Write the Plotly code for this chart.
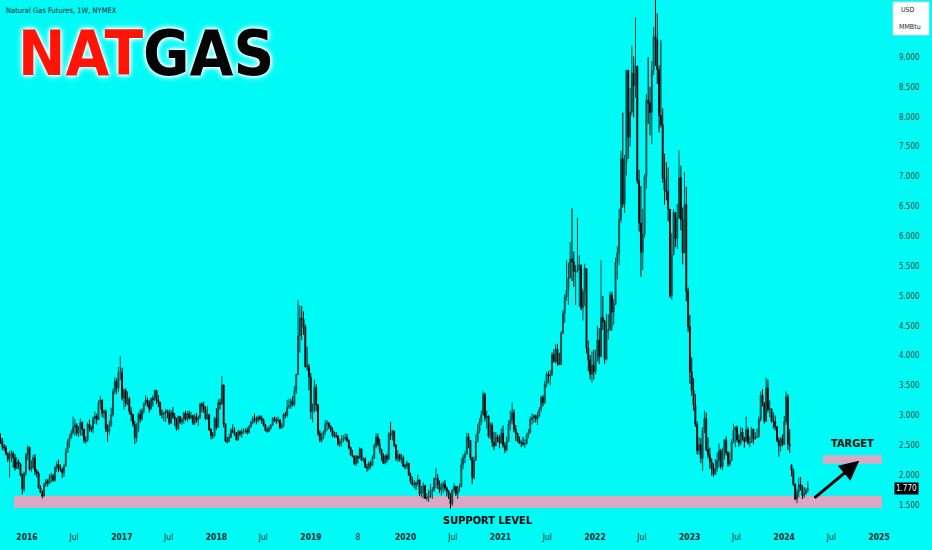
import plotly.graph_objects as go
import pandas as pd

# ---------------- data (weekly candles, NYMEX natural gas, USD/MMBtu) ----------------
start_week = "2015-09-21"
first_open = 2.62
gap_opens = {"2024-01-29": 2.17}   # contract-roll gap

c2015 = [2.57,2.47,2.46,2.36,2.27,2.32,2.37,2.29,2.12,2.22,2.19,2.00,1.77,2.03,2.34]
h2015 = [2.70,2.62,2.52,2.50,2.38,2.40,2.42,2.40,2.35,2.30,2.26,2.20,2.03,2.06,2.37]
l2015 = [2.52,2.42,2.40,2.33,2.22,1.96,2.22,2.12,2.08,2.10,2.10,1.98,1.68,1.72,1.99]

c2016 = [2.47,2.10,2.13,2.29, 2.06,2.03,1.79,1.71,1.65, 1.85,1.90,1.86,1.96, 1.99,1.91,2.13,2.18,
         2.10,2.09,2.04,2.15,2.39, 2.56,2.62,2.70,2.80, 2.84,2.70,2.77,2.88, 2.77,2.58,2.58,2.85,2.79,
         2.77,2.95,2.99,2.93, 3.21,3.26,3.04,3.07,2.77, 2.73,2.84,3.01,3.40, 3.57,3.46,3.72,3.72]
h2016 = [2.50,2.46,2.25,2.34, 2.35,2.10,2.06,1.83,1.75, 1.87,1.94,1.93,2.02, 2.04,2.02,2.15,2.23,
         2.26,2.18,2.13,2.19,2.45, 2.60,2.68,2.76,2.98, 2.94,2.87,2.82,2.95, 2.90,2.77,2.65,2.88,2.93,
         2.83,2.98,3.06,3.03, 3.25,3.33,3.25,3.10,3.10, 2.85,2.91,3.13,3.45, 3.64,3.62,3.81,3.99]
l2016 = [2.25,2.07,2.05,2.10, 2.00,1.96,1.77,1.70,1.61, 1.64,1.80,1.81,1.85, 1.88,1.89,1.89,2.05,
         2.05,2.06,1.95,1.97,2.16, 2.38,2.46,2.61,2.68, 2.66,2.66,2.64,2.66, 2.66,2.54,2.53,2.56,2.73,
         2.72,2.70,2.86,2.85, 2.92,3.10,2.97,2.95,2.72, 2.56,2.68,2.81,2.98, 3.35,3.36,3.40,3.59]

c2017 = [3.29,3.42,3.20,3.28,3.07, 3.01,2.85,2.63,2.78, 3.02,2.94,3.08,3.19, 3.26,3.21,3.11,3.28,
         3.27,3.42,3.26,3.22,3.03, 3.02,3.04,3.07,3.04, 2.87,3.05,2.98,2.94,2.77, 2.98,2.89,2.93,3.04,
         2.94,3.03,2.96,3.00, 2.87,2.98,2.92,2.96,3.19, 3.16,3.10,2.94,3.01, 2.76,2.66,2.66,2.95]
h2017 = [3.80,3.45,3.45,3.40,3.31, 3.14,3.03,2.91,2.87, 3.05,3.10,3.12,3.22, 3.34,3.30,3.25,3.30,
         3.33,3.43,3.41,3.34,3.18, 3.10,3.07,3.11,3.10, 3.10,3.09,3.14,3.04,2.96, 3.00,2.99,2.97,3.06,
         3.08,3.07,3.08,3.06, 3.01,3.02,3.04,3.00,3.21, 3.22,3.23,3.15,3.16, 3.03,2.79,2.72,2.98]
l2017 = [3.25,3.10,3.15,3.17,3.02, 2.90,2.81,2.52,2.55, 2.72,2.88,2.91,3.03, 3.16,3.14,3.05,3.09,
         3.15,3.24,3.19,3.14,2.99, 2.95,2.90,2.89,2.95, 2.84,2.86,2.94,2.82,2.74, 2.77,2.86,2.84,2.86,
         2.91,2.89,2.93,2.93, 2.84,2.84,2.88,2.82,2.94, 3.05,3.04,2.92,2.93, 2.74,2.60,2.61,2.64]

c2018 = [2.80,3.21,3.19,3.51,2.85, 2.57,2.56,2.63,2.75, 2.73,2.68,2.59,2.73, 2.69,2.73,2.73,2.75,2.71,
         2.81,2.88,2.95,2.93, 2.92,2.97,2.95,2.92, 2.84,2.75,2.74,2.79,2.84, 2.95,2.92,2.91,2.92,
         2.79,2.82,3.02,3.00, 3.14,3.16,3.24,3.18,3.41, 3.68,4.33,4.63,4.61, 4.48,3.82,3.82,3.64,3.06]
h2018 = [3.12,3.27,3.28,3.66,3.50, 2.87,2.64,2.69,2.79, 2.85,2.80,2.72,2.76, 2.75,2.78,2.78,2.79,2.80,
         2.84,2.91,2.99,3.03, 2.98,3.00,3.00,3.00, 2.95,2.86,2.80,2.83,2.85, 2.97,2.98,2.97,2.98,
         2.94,2.87,3.04,3.06, 3.26,3.28,3.28,3.32,3.49, 3.70,4.93,4.84,4.83, 4.74,4.52,4.15,3.86,3.71]
l2018 = [2.76,2.80,3.10,3.18,2.80, 2.55,2.53,2.56,2.62, 2.70,2.66,2.58,2.58, 2.65,2.62,2.69,2.70,2.68,
         2.70,2.79,2.85,2.88, 2.85,2.88,2.91,2.86, 2.81,2.73,2.71,2.72,2.76, 2.82,2.89,2.86,2.87,
         2.77,2.78,2.80,2.95, 2.97,3.11,3.11,3.15,3.15, 3.36,3.73,4.05,4.26, 4.35,3.80,3.75,3.42,2.94]

c2019 = [3.09,3.47,3.18,2.70, 2.58,2.63,2.72,2.86, 2.87,2.81,2.76,2.66, 2.66,2.66,2.52,2.56,2.58,
         2.62,2.63,2.58,2.46, 2.34,2.31,2.19,2.31, 2.29,2.44,2.25,2.27,2.13, 2.12,2.20,2.16,2.29,
         2.49,2.64,2.52,2.43,2.33, 2.20,2.32,2.27,2.69, 2.67,2.74,2.50,2.28, 2.34,2.26,2.29,2.15,2.15]
h2019 = [3.20,3.60,3.52,3.15, 2.75,2.71,2.75,2.92, 2.92,2.89,2.84,2.80, 2.73,2.72,2.67,2.61,2.67,
         2.67,2.70,2.69,2.60, 2.48,2.42,2.33,2.34, 2.33,2.47,2.42,2.30,2.30, 2.19,2.23,2.24,2.33,
         2.53,2.70,2.70,2.61,2.44, 2.37,2.34,2.36,2.72, 2.89,2.76,2.72,2.52, 2.42,2.36,2.36,2.33,2.19]
l2019 = [2.88,3.05,3.07,2.66, 2.55,2.55,2.60,2.67, 2.74,2.77,2.72,2.63, 2.63,2.62,2.49,2.47,2.48,
         2.55,2.58,2.55,2.43, 2.33,2.30,2.17,2.15, 2.20,2.27,2.24,2.21,2.12, 2.06,2.08,2.11,2.17,
         2.27,2.45,2.48,2.37,2.24, 2.19,2.18,2.21,2.25, 2.59,2.58,2.47,2.24, 2.22,2.23,2.20,2.13,2.10]

c2020 = [2.20,2.00,1.89,1.84, 1.86,1.85,1.92,1.69, 1.71,1.82,1.61,1.63,1.64, 1.73,1.75,1.94,1.94,
         1.84,1.75,1.79,1.85, 1.78,1.73,1.67,1.52,1.75, 1.81,1.69,1.80,1.80, 2.17,2.30,2.35,2.64,2.58,
         2.30,1.96,2.25,2.56, 2.74,2.89,3.01,3.35, 2.96,2.99,2.65,2.84,2.55, 2.49,2.64,2.63,2.54]
h2020 = [2.24,2.19,2.04,1.97, 1.92,1.89,2.01,1.93, 1.82,1.88,1.84,1.70,1.76, 1.85,1.80,1.96,2.12,
         2.02,1.91,1.87,1.90, 1.92,1.81,1.75,1.70,1.76, 1.87,1.82,1.82,1.86, 2.28,2.35,2.40,2.71,2.70,
         2.55,2.30,2.31,2.68, 2.85,2.95,3.08,3.40, 3.38,3.08,3.00,2.88,2.88, 2.72,2.72,2.68,2.67]
l2020 = [2.10,1.99,1.86,1.82, 1.78,1.75,1.81,1.65, 1.63,1.61,1.60,1.57,1.55, 1.62,1.60,1.72,1.78,
         1.77,1.70,1.66,1.70, 1.74,1.64,1.60,1.43,1.48, 1.70,1.65,1.60,1.72, 1.80,2.10,2.20,2.40,2.45,
         2.25,1.85,1.93,2.43, 2.56,2.70,2.84,3.00, 2.90,2.78,2.62,2.60,2.47, 2.42,2.58,2.55,2.45]

c2021 = [2.70,2.50,2.42,2.56, 2.86,2.91,3.05,2.77, 2.70,2.60,2.54,2.54,2.52, 2.53,2.67,2.72,2.93,
         2.96,3.00,2.94,2.99,3.10, 3.30,3.21,3.52,3.69, 3.66,3.68,4.02,3.91, 4.11,3.88,3.85,4.38,4.71,
         4.98,5.10,5.30,5.62, 5.57,5.41,5.43,5.43, 5.52,4.80,5.07,5.46,4.13, 3.93,3.69,3.84,3.73]
h2021 = [2.78,2.83,2.55,2.64, 2.92,3.08,3.22,3.10, 2.84,2.71,2.65,2.58,2.64, 2.60,2.70,2.77,2.98,
         3.03,3.02,3.01,3.06,3.14, 3.33,3.34,3.58,3.73, 3.74,3.76,4.06,4.11, 4.19,4.20,4.05,4.41,4.76,
         5.03,5.60,5.56,5.90, 6.47,5.74,5.52,6.31, 5.68,5.22,5.12,5.54,4.60, 4.25,4.01,4.07,4.10]
l2021 = [2.52,2.46,2.37,2.40, 2.57,2.75,2.85,2.72, 2.57,2.55,2.52,2.47,2.49, 2.45,2.51,2.62,2.70,
         2.85,2.88,2.88,2.84,2.97, 3.06,3.15,3.19,3.47, 3.54,3.50,3.66,3.88, 3.87,3.83,3.85,3.88,4.36,
         4.55,4.92,4.85,5.44, 5.25,5.15,4.85,5.39, 4.82,4.76,4.59,4.83,4.04, 3.74,3.60,3.55,3.60]

c2022 = [3.92,4.26,3.99,4.64,4.57, 3.94,4.42,4.44,5.02, 4.73,4.86,5.57,5.72, 6.28,7.30,6.54,7.24,
         8.78,7.66,8.08,8.73,8.52, 8.85,6.93,6.22,5.73, 6.03,7.00,8.28,8.23, 8.07,8.77,9.34,9.29,8.79,
         8.02,7.87,6.96,6.77, 6.75,6.45,5.00,5.69,6.40, 5.96,6.30,6.98,6.28, 5.72,6.53,5.08,4.48]
h2022 = [4.10,4.50,4.46,5.60,5.00, 4.60,4.70,4.69,5.07, 5.07,4.95,5.64,5.83, 6.46,7.43,8.07,7.36,
         8.78,8.20,8.48,9.19,9.01, 9.66,8.75,7.11,6.84, 6.46,7.04,8.38,9.00, 8.50,8.93,9.50,10.03,9.73,
         8.86,9.28,8.14,7.38, 7.24,7.15,6.35,6.05,6.45, 6.35,6.54,7.44,7.18, 6.48,7.07,6.83,5.14]
l2022 = [3.69,3.90,3.86,3.97,4.43, 3.86,3.92,4.27,4.41, 4.42,4.52,4.90,5.28, 5.52,6.23,6.48,6.39,
         7.02,7.30,7.50,8.02,7.99, 8.32,6.88,6.08,5.32, 5.44,5.98,6.80,7.88, 7.69,7.54,8.70,8.85,8.55,
         7.74,7.82,6.90,6.53, 6.60,6.25,4.97,4.94,5.75, 5.82,5.79,6.54,6.10, 5.53,5.95,4.91,4.40]

c2023 = [3.73,3.42,3.17,2.85,2.41, 2.51,2.28,2.76,2.95, 2.43,2.34,2.22,2.10, 2.01,2.11,2.24,2.41,
         2.14,2.34,2.59,2.38,2.18, 2.24,2.55,2.75,2.80, 2.59,2.54,2.72,2.63,2.56, 2.76,2.54,2.55,2.77,
         2.61,2.64,2.64,2.93, 3.34,3.21,2.90,3.46,3.10, 3.11,2.90,2.90,2.81, 2.58,2.49,2.61,2.51]
h2023 = [4.68,3.97,3.62,3.36,2.90, 2.64,2.62,2.80,3.08, 3.05,2.63,2.46,2.28, 2.20,2.27,2.38,2.53,
         2.44,2.46,2.60,2.65,2.40, 2.38,2.60,2.86,2.82, 2.83,2.68,2.81,2.79,2.64, 2.98,2.80,2.65,2.81,
         2.73,2.72,2.78,2.98, 3.40,3.44,3.22,3.63,3.60, 3.25,3.10,3.05,3.00, 2.82,2.63,2.64,2.68]
l2023 = [3.53,3.33,3.08,2.81,2.35, 2.34,2.20,2.07,2.70, 2.40,2.28,2.11,1.99, 1.97,2.02,2.05,2.13,
         2.10,2.08,2.26,2.33,2.14, 2.15,2.29,2.53,2.47, 2.55,2.48,2.50,2.58,2.46, 2.56,2.51,2.47,2.56,
         2.52,2.59,2.62,2.63, 2.90,3.15,2.86,3.05,3.05, 2.97,2.88,2.78,2.75, 2.55,2.31,2.40,2.48]

c2024 = [2.89,3.31,2.52,2.49,2.08, 1.85,1.60,1.72,1.84, 1.80,1.66,1.70,1.75, 1.77]
h2024 = [2.99,3.40,3.35,2.77,2.18, 2.11,1.86,1.77,1.96, 1.97,1.84,1.80,1.79, 1.90]
l2024 = [2.53,2.84,2.42,2.37,1.98, 1.82,1.58,1.53,1.63, 1.74,1.60,1.62,1.67, 1.71]

last_price = 1.770

# axis labels
x_tick_dates = ["2016-01-01","2016-07-01","2017-01-01","2017-07-01","2018-01-01","2018-07-01",
                "2019-01-01","2019-07-01","2020-01-01","2020-07-01","2021-01-01","2021-07-01",
                "2022-01-01","2022-07-01","2023-01-01","2023-07-01","2024-01-01","2024-07-01","2025-01-01"]
x_tick_text = ["<b>2016</b>","Jul","<b>2017</b>","Jul","<b>2018</b>","Jul","<b>2019</b>","8",
               "<b>2020</b>","Jul","<b>2021</b>","Jul","<b>2022</b>","Jul","<b>2023</b>","Jul",
               "<b>2024</b>","Jul","<b>2025</b>"]
y_tick_vals = [1.5,2.0,2.5,3.0,3.5,4.0,4.5,5.0,5.5,6.0,6.5,7.0,7.5,8.0,8.5,9.0]

# zones
support_zone = (1.45, 1.655, "2015-11-12", "2025-01-12")
target_zone = (2.19, 2.335, "2024-05-29", "2025-01-12")
arrow_from = ("2024-04-21", 1.60)
arrow_to = ("2024-10-16", 2.24)

# ---------------- assemble ----------------
closes = c2015 + c2016 + c2017 + c2018 + c2019 + c2020 + c2021 + c2022 + c2023 + c2024
highs_in = h2015 + h2016 + h2017 + h2018 + h2019 + h2020 + h2021 + h2022 + h2023 + h2024
lows_in = l2015 + l2016 + l2017 + l2018 + l2019 + l2020 + l2021 + l2022 + l2023 + l2024
dates = pd.date_range(start_week, periods=len(closes), freq="W-MON")
opens = [first_open] + closes[:-1]
for d, v in gap_opens.items():
    opens[dates.get_loc(pd.Timestamp(d))] = v
highs = [max(h, o, c) for h, o, c in zip(highs_in, opens, closes)]
lows = [min(l, o, c) for l, o, c in zip(lows_in, opens, closes)]

BG = "#00FAF6"
NARROW = "DejaVu Sans Condensed, Liberation Sans Narrow, Arial Narrow, sans-serif"
TXT = "#1b2a30"

fig = go.Figure()
fig.add_trace(go.Candlestick(
    x=dates, open=opens, high=highs, low=lows, close=closes,
    increasing=dict(line=dict(color="#0c4644", width=1), fillcolor="#128481"),
    decreasing=dict(line=dict(color="#1e0505", width=1), fillcolor="#7a0c0c"),
    whiskerwidth=0, hoverinfo="skip", showlegend=False))

PINK = "#dba8c3"
fig.add_shape(type="rect", xref="x", yref="y", x0=support_zone[2], x1=support_zone[3],
              y0=support_zone[0], y1=support_zone[1], fillcolor=PINK, line=dict(width=0), layer="below")
fig.add_shape(type="rect", xref="x", yref="y", x0=target_zone[2], x1=target_zone[3],
              y0=target_zone[0], y1=target_zone[1], fillcolor=PINK, line=dict(width=0), layer="below")

W_PLOT = 890.0
H_PLOT = 530.0
def px(x):
    return x / W_PLOT
def py(y):
    return 1 - y / H_PLOT

annotations = [
    dict(text="Natural Gas Futures, 1W, NYMEX", xref="paper", yref="paper", x=px(4), y=py(11),
         xanchor="left", yanchor="middle", showarrow=False,
         font=dict(family=NARROW, size=7.5, color="#10202a")),
    dict(text="<span style='color:#ff1408'>NAT</span>GAS", xref="paper", yref="paper",
         x=px(16), y=py(54), xanchor="left", yanchor="middle", showarrow=False,
         font=dict(family=NARROW, size=63, color="#050505", weight="bold",
                   shadow="0 0 2px #ffffff, 0 0 3px #ffffff, 0 0 5px #ffffff, 0 0 7px #ffffff")),
    dict(text="SUPPORT LEVEL", xref="paper", yref="paper", x=px(488), y=py(520),
         xanchor="center", yanchor="middle", showarrow=False,
         font=dict(family=NARROW, size=11, color="#0a0a0a", weight="bold")),
    dict(text="TARGET", xref="paper", yref="paper", x=px(852), y=py(443),
         xanchor="center", yanchor="middle", showarrow=False,
         font=dict(family=NARROW, size=11, color="#0a0a0a", weight="bold")),
    dict(text="", xref="x", yref="y", axref="x", ayref="y",
         x=arrow_to[0], y=arrow_to[1], ax=arrow_from[0], ay=arrow_from[1],
         showarrow=True, arrowhead=2, arrowsize=1.3, arrowwidth=3, arrowcolor="#000000"),
    dict(text=f"{last_price:.3f}", xref="paper", yref="y", x=px(906), y=last_price,
         xanchor="center", yanchor="middle", showarrow=False, bgcolor="#000000", borderpad=1,
         font=dict(family=NARROW, size=8, color="#ffffff")),
    dict(text="USD", xref="paper", yref="paper", x=px(899), y=py(10),
         xanchor="left", yanchor="middle", showarrow=False,
         font=dict(family=NARROW, size=7, color="#1b2a30")),
    dict(text="MMBtu", xref="paper", yref="paper", x=px(897), y=py(27),
         xanchor="left", yanchor="middle", showarrow=False,
         font=dict(family=NARROW, size=7, color="#1b2a30")),
]

fig.add_shape(type="rect", xref="paper", yref="paper", x0=px(893), x1=px(929), y0=py(35), y1=py(2),
              fillcolor="#ffffff", line=dict(color="#d0d4d8", width=1), layer="below")

fig.update_layout(
    width=932, height=550,
    margin=dict(l=0, r=42, t=0, b=20),
    paper_bgcolor=BG, plot_bgcolor=BG,
    annotations=annotations,
    xaxis=dict(type="date", range=["2015-09-19", "2025-02-12"], rangeslider=dict(visible=False),
               showgrid=False, zeroline=False, showline=False, ticks="",
               tickmode="array", tickvals=x_tick_dates, ticktext=x_tick_text,
               tickfont=dict(family=NARROW, size=8.5, color=TXT)),
    yaxis=dict(side="right", range=[1.0815, 9.955], showgrid=False, zeroline=False, showline=False,
               ticks="", tickmode="array", tickvals=y_tick_vals,
               ticktext=[f"{v:.3f}" for v in y_tick_vals], ticklabelstandoff=8,
               tickfont=dict(family=NARROW, size=8, color="#2c3e44")),
    showlegend=False,
)

fig.write_html("out.html", config={"displayModeBar": False},
               post_script="document.body.style.margin='0';document.body.style.overflow='hidden';")
